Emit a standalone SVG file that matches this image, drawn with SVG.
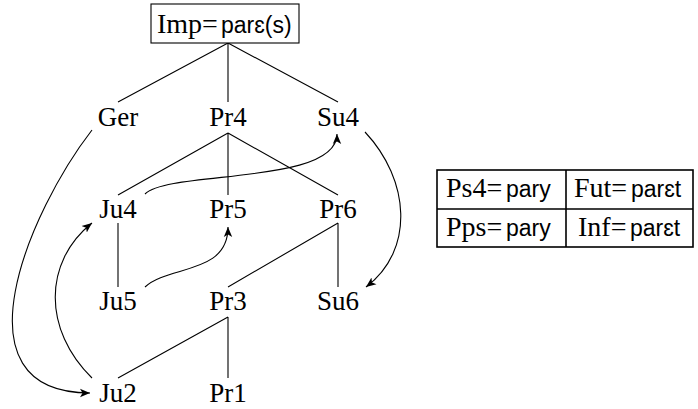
<svg xmlns="http://www.w3.org/2000/svg" width="698" height="409" viewBox="0 0 698 409">
<defs>
<marker id="ah" markerUnits="userSpaceOnUse" markerWidth="12" markerHeight="10" refX="10" refY="5" orient="auto" viewBox="0 0 12 10">
<path d="M0,0.8 L10,5 L0,9.2 L2.5,5 Z" fill="#000"/>
</marker>
</defs>
<rect x="0" y="0" width="698" height="409" fill="#fff"/>
<g id="connectors" stroke="#000" stroke-width="1.1" fill="none">
<path d="M228,43 L118,102 M228,43 L228,102 M228,43 L338,102"/>
<path d="M228,133 L118,195 M228,133 L228,195 M228,133 L338,195"/>
<path d="M118,223 L118,287"/>
<path d="M338,223 L228,287 M338,223 L338,287"/>
<path d="M228,317 L118,378 M228,317 L228,378"/>
<g marker-end="url(#ah)">
<path d="M92,130 C30,210 -50,393 90,393"/>
<path d="M92,378 C43,330 43,262 92,223"/>
<path d="M145,194 C170,170 337,185 337,134"/>
<path d="M145,287 C168,265 228,275 228,227"/>
<path d="M365,132 C410,180 415,250 366,287"/>
</g>
</g>
<g id="imp">
<rect x="151" y="4" width="148" height="39" fill="#fff" stroke="#000" stroke-width="1.1"/>
<text x="157" y="33" font-family="Liberation Serif" font-size="28">Imp=</text>
<text x="221" y="33" font-family="Liberation Sans" font-size="23">parɛ(s)</text>
</g>
<g id="ger"><text x="118" y="126" font-family="Liberation Serif" font-size="27" text-anchor="middle">Ger</text></g>
<g id="pr4"><text x="228" y="126" font-family="Liberation Serif" font-size="27" text-anchor="middle">Pr4</text></g>
<g id="su4"><text x="338" y="126" font-family="Liberation Serif" font-size="27" text-anchor="middle">Su4</text></g>
<g id="ju4"><text x="118" y="218" font-family="Liberation Serif" font-size="27" text-anchor="middle">Ju4</text></g>
<g id="pr5"><text x="228" y="218" font-family="Liberation Serif" font-size="27" text-anchor="middle">Pr5</text></g>
<g id="pr6"><text x="338" y="218" font-family="Liberation Serif" font-size="27" text-anchor="middle">Pr6</text></g>
<g id="ju5"><text x="118" y="310" font-family="Liberation Serif" font-size="27" text-anchor="middle">Ju5</text></g>
<g id="pr3"><text x="228" y="310" font-family="Liberation Serif" font-size="27" text-anchor="middle">Pr3</text></g>
<g id="su6"><text x="338" y="310" font-family="Liberation Serif" font-size="27" text-anchor="middle">Su6</text></g>
<g id="ju2"><text x="118" y="402" font-family="Liberation Serif" font-size="27" text-anchor="middle">Ju2</text></g>
<g id="pr1"><text x="228" y="402" font-family="Liberation Serif" font-size="27" text-anchor="middle">Pr1</text></g>
<g id="table">
<rect x="437" y="170" width="256" height="77" fill="none" stroke="#000" stroke-width="1.6"/>
<path d="M437,209 L693,209 M566,170 L566,247" stroke="#000" stroke-width="1.6"/>
<text x="446" y="197" font-family="Liberation Serif" font-size="28">Ps4=</text>
<text x="506" y="197" font-family="Liberation Sans" font-size="23">pary</text>
<text x="574" y="197" font-family="Liberation Serif" font-size="28">Fut=</text>
<text x="631" y="197" font-family="Liberation Sans" font-size="23">parɛt</text>
<text x="446" y="236" font-family="Liberation Serif" font-size="28">Pps=</text>
<text x="506" y="236" font-family="Liberation Sans" font-size="23">pary</text>
<text x="578" y="236" font-family="Liberation Serif" font-size="28">Inf=</text>
<text x="630" y="236" font-family="Liberation Sans" font-size="23">parɛt</text>
</g>
</svg>
